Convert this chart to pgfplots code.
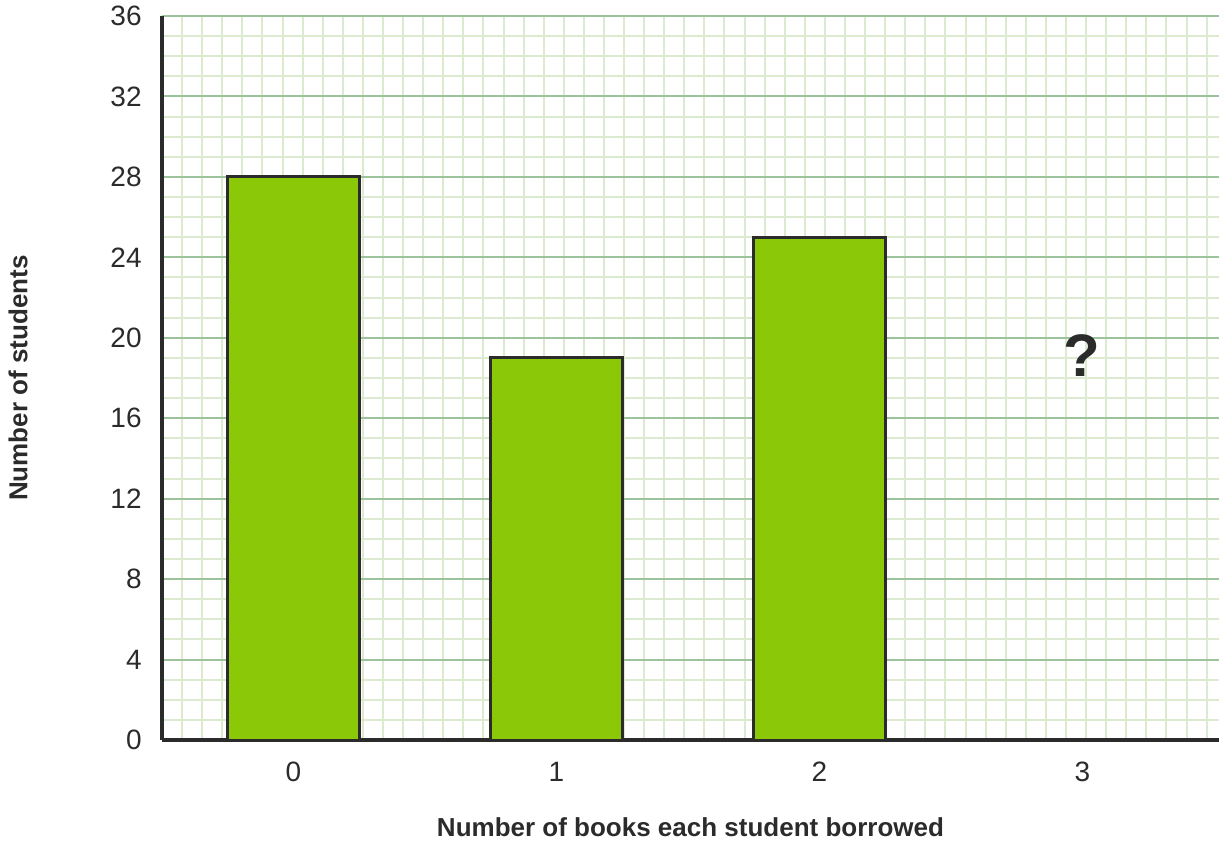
\documentclass[border=0pt]{standalone}
\usepackage{pgfplots}
\pgfplotsset{compat=1.18}
\usepackage{fontspec}
\setmainfont{Liberation Sans}

\definecolor{barfill}{HTML}{8AC808}
\definecolor{edge}{HTML}{2B2B2B}
\definecolor{majorgrid}{HTML}{9DC39D}
\definecolor{minorgrid}{HTML}{DCEBD0}

\begin{document}
\begin{tikzpicture}
	\begin{axis}
	[scale only axis, width=528.5pt, height=362pt,
	 xmin=-0.5, xmax=3.52, ymin=0, ymax=36,
	 axis lines*=left,
	 axis line style={draw=edge, line width=2pt, -},
	 xtick={0,1,2,3}, ytick={0,4,...,36},
	 minor xtick={-0.4236,-0.3472,...,3.52},
	 minor ytick={0,1,...,36},
	 major tick length=0pt, minor tick length=0pt,
	 ymajorgrids, xminorgrids, yminorgrids,
	 major grid style={draw=majorgrid, line width=1pt},
	 minor grid style={draw=minorgrid, line width=1pt},
	 /pgf/number format/assume math mode=true,
	 tick label style={font=\fontsize{14}{16}\selectfont, text=edge},
	 yticklabel style={anchor=east, inner sep=0pt, xshift=-10pt},
	 xticklabel style={anchor=north, inner sep=0pt, yshift=-11pt},
	 xlabel={Number of books each student borrowed},
	 ylabel={Number of students},
	 label style={font=\fontsize{13}{15}\selectfont\bfseries, text=edge},
	 xlabel style={at={(axis description cs:0.5,0)}, anchor=center, yshift=-43.5pt},
	 ylabel style={at={(axis description cs:-0.1362,0.5)}, anchor=center},
	 ybar, bar width=0.5, bar shift=0pt]
		\addplot[fill=barfill, draw=edge, line width=1.5pt]
			coordinates {
			(0,28)
			(1,19)
			(2,25)
		};
		\node[font=\fontsize{30}{32}\selectfont\bfseries, text=edge] at (axis cs:3,19.1) {?};
	\end{axis}
	\pgfresetboundingbox
	\path[use as bounding box] (-81pt,-51pt) rectangle (529pt,370pt);
\end{tikzpicture}
\end{document}
